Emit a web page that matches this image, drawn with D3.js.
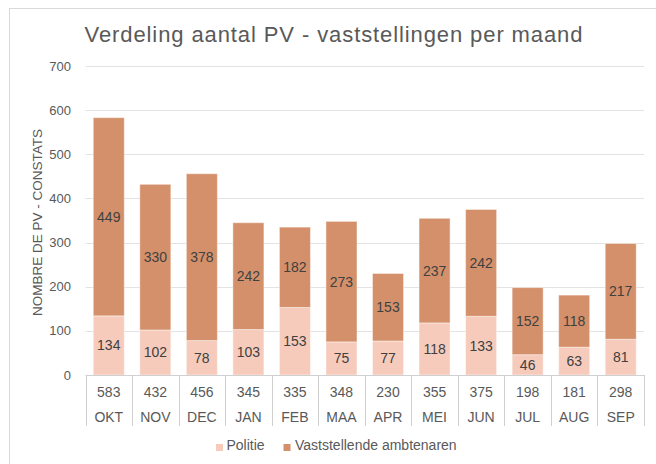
<!DOCTYPE html>
<html>
<head>
<meta charset="utf-8">
<script src="https://cdn.jsdelivr.net/npm/d3@7/dist/d3.min.js"></script>
<style>
  html, body { margin: 0; padding: 0; background: #fff; }
  svg { display: block; font-family: "Liberation Sans", Arial, sans-serif; }
</style>
</head>
<body>
<svg id="chart" width="656" height="464"></svg>
<script>
// Monthly PV counts, split by reporting body
const months = ["OKT", "NOV", "DEC", "JAN", "FEB", "MAA", "APR", "MEI", "JUN", "JUL", "AUG", "SEP"];
const politie = [134, 102, 78, 103, 153, 75, 77, 118, 133, 46, 63, 81];
const ambtenaren = [449, 330, 378, 242, 182, 273, 153, 237, 242, 152, 118, 217];
const totals = [583, 432, 456, 345, 335, 348, 230, 355, 375, 198, 181, 298];
const yTicks = [0, 100, 200, 300, 400, 500, 600, 700];
const seriesNames = ["Politie", "Vaststellende ambtenaren"];

const colors = { Politie: "#f6cbbb", "Vaststellende ambtenaren": "#d4906a" };

const svg = d3.select("#chart");
const plotLeft = 85.5, plotRight = 644, plotTop = 66, plotBottom = 375;

// Chart frame
svg.append("rect")
  .attr("x", 9.5).attr("y", 8.5)
  .attr("width", 700).attr("height", 500)
  .attr("fill", "#fff").attr("stroke", "#d9d9d9").attr("stroke-width", 1);

// Title
svg.append("text")
  .attr("x", 334).attr("y", 41.5)
  .attr("text-anchor", "middle")
  .attr("font-size", 22)
  .attr("letter-spacing", 0.9)
  .attr("fill", "#595959")
  .text("Verdeling aantal PV - vaststellingen per maand");

const x = d3.scaleBand().domain(months).range([plotLeft, plotRight]).paddingInner(1 / 3).paddingOuter(1 / 6);
const band = d3.scaleBand().domain(months).range([plotLeft, plotRight]);
const y = d3.scaleLinear().domain([0, 700]).range([plotBottom, plotTop]);

// Gridlines and y labels
const yAxis = svg.append("g");
yAxis.selectAll("line").data(yTicks.filter(t => t > 0)).join("line")
  .attr("x1", plotLeft).attr("x2", plotRight)
  .attr("y1", d => Math.round(y(d)) + 0.5).attr("y2", d => Math.round(y(d)) + 0.5)
  .attr("stroke", "#e3e3e3").attr("stroke-width", 1);
yAxis.selectAll("text").data(yTicks).join("text")
  .attr("x", 71).attr("y", d => y(d) + 4.5)
  .attr("text-anchor", "end")
  .attr("font-size", 13)
  .attr("fill", "#595959")
  .text(d => d);

svg.append("text")
  .attr("transform", `translate(42, ${(plotTop + plotBottom) / 2 + 2}) rotate(-90)`)
  .attr("text-anchor", "middle")
  .attr("font-size", 13.5)
  .attr("fill", "#595959")
  .text("NOMBRE DE PV - CONSTATS");

// Stacked bars
const rows = months.map((m, i) => ({ month: m, Politie: politie[i], "Vaststellende ambtenaren": ambtenaren[i] }));
const stacked = d3.stack().keys(seriesNames)(rows);

const layers = svg.append("g").selectAll("g").data(stacked).join("g")
  .attr("fill", d => colors[d.key]);
layers.selectAll("rect").data(d => d).join("rect")
  .attr("x", d => x(d.data.month))
  .attr("width", x.bandwidth())
  .attr("y", d => y(d[1]))
  .attr("height", d => y(d[0]) - y(d[1]))
  .attr("stroke", "rgba(255,255,255,0.45)")
  .attr("stroke-width", 1);

// Segment value labels
const labels = svg.append("g");
stacked.forEach(layer => {
  labels.selectAll(null).data(layer).join("text")
    .attr("x", d => x(d.data.month) + x.bandwidth() / 2)
    .attr("y", d => (y(d[0]) + y(d[1])) / 2 + 5)
    .attr("text-anchor", "middle")
    .attr("font-size", 14)
    .attr("fill", "#404040")
    .text(d => d[1] - d[0]);
});

// Data table under the axis: totals and month names
const table = svg.append("g");
table.append("line")
  .attr("x1", plotLeft).attr("x2", plotRight)
  .attr("y1", plotBottom + 0.5).attr("y2", plotBottom + 0.5)
  .attr("stroke", "#d0d0d0");
const edges = months.map(m => band(m)).concat([plotRight]);
table.selectAll("line.v").data(edges).join("line")
  .attr("class", "v")
  .attr("x1", d => Math.round(d) + 0.5).attr("x2", d => Math.round(d) + 0.5)
  .attr("y1", plotBottom).attr("y2", 426)
  .attr("stroke", "#d0d0d0");
table.selectAll("text.tot").data(totals).join("text")
  .attr("class", "tot")
  .attr("x", (d, i) => band(months[i]) + band.bandwidth() / 2)
  .attr("y", 396.5)
  .attr("text-anchor", "middle")
  .attr("font-size", 14)
  .attr("fill", "#595959")
  .text(d => d);
table.selectAll("text.mon").data(months).join("text")
  .attr("class", "mon")
  .attr("x", d => band(d) + band.bandwidth() / 2)
  .attr("y", 421.5)
  .attr("text-anchor", "middle")
  .attr("font-size", 14)
  .attr("fill", "#595959")
  .text(d => d);

// Legend
const legendPos = [{ sx: 216, tx: 226.5 }, { sx: 283.5, tx: 295 }];
seriesNames.forEach((name, i) => {
  svg.append("rect")
    .attr("x", legendPos[i].sx).attr("y", 444)
    .attr("width", 7).attr("height", 7)
    .attr("fill", colors[name]);
  svg.append("text")
    .attr("x", legendPos[i].tx).attr("y", 450)
    .attr("font-size", 14)
    .attr("fill", "#595959")
    .text(name);
});
</script>
</body>
</html>
